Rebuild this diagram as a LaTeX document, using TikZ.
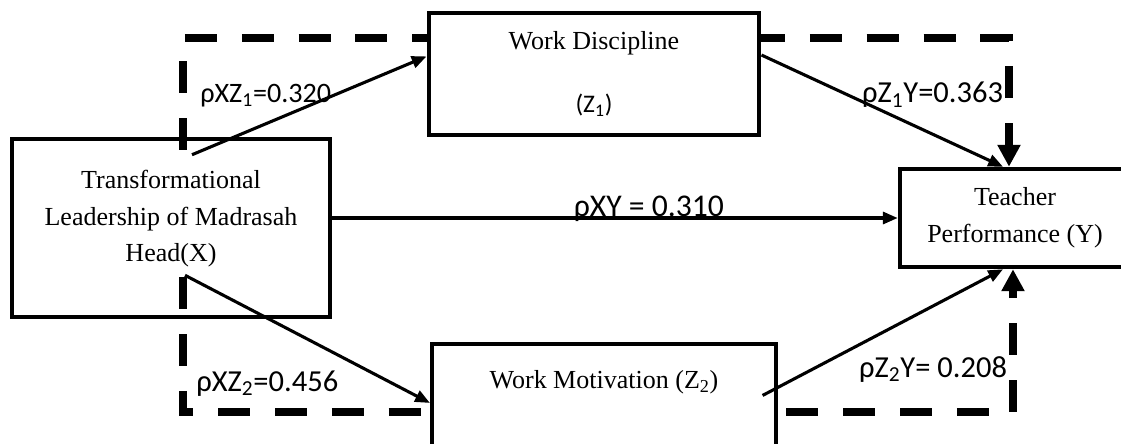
\documentclass[tikz,border=0pt]{standalone}
\usepackage{fontspec}
\setmainfont{Liberation Serif}
\newfontfamily\lblfont{Carlito}
\usetikzlibrary{positioning,arrows.meta,calc,backgrounds}

\begin{document}
\begin{tikzpicture}[x=0.025cm, y=-0.025cm, font=\fontsize{18.5}{26}\selectfont,
    var/.style={draw, line width=3.2pt, fill=white, align=center, inner sep=0pt},
    effect/.style={line width=2.2pt, -{Triangle[length=10.5pt,width=8.5pt]}},
    mediated/.style={line width=5.7pt, dash pattern=on 0.8cm off 0.62cm,
      -{Triangle[length=15.5pt,width=15.5pt]}},
    coef/.style={font=\lblfont\fontsize{21.7}{26}\selectfont, inner sep=0pt}]
    \useasboundingbox (0,0) rectangle (1121,443);

    \node[var, fill=none, minimum width=7.94cm, minimum height=4.45cm, text depth=0.6cm]
      (lead) at (171,228) {Transformational\\Leadership of Madrasah\\Head(X)};
    \node[var, minimum width=8.26cm, minimum height=3.06cm]
      (wd) at (594,74) {Work Discipline\\[0.67cm]{\lblfont\fontsize{18}{22}\selectfont(Z\textsubscript{1})}};
    \node[var, minimum width=8.59cm, minimum height=2.89cm, text height=0.5cm, text depth=1.175cm]
      (wm) at (604,402) {Work Motivation (Z\textsubscript{2})};
    \node[var, minimum width=5.75cm, minimum height=2.45cm]
      (tp) at (1015,218) {Teacher\\Performance (Y)};

    \begin{scope}[on background layer]
      \draw[mediated] ($(lead.north)+(12,13)$) |- ($(wd.north)+(0,27.5)$) -| ($(tp.north)+(-6,0)$);
      \draw[mediated] ($(lead.south)+(12,-42)$) |- ($(wm.north)+(0,70.5)$) -| ($(tp.south)+(-2,0)$);
    \end{scope}

    \draw[effect] ($(lead.north)+(21,18)$) -- node[coef, font=\lblfont\fontsize{20}{24}\selectfont,
      pos=0.6, anchor=east] {ρXZ\textsubscript{1}=0.320} (wd.174.5);
    \draw[effect] ($(wd.north east)+(0,44.5)$) -- node[coef, pos=0.41, anchor=west, yshift=0.15cm]
      {ρZ\textsubscript{1}Y=0.363} ($(tp.north)+(-12,0)$);
    \draw[effect] (lead.east |- tp.west) -- node[coef, font=\lblfont\fontsize{22.5}{26}\selectfont,
      pos=0.56, anchor=base, yshift=1.4pt] {ρXY = 0.310} (tp.west);
    \draw[effect] ($(lead.south)+(14,-44)$) -- node[coef, pos=0.632, anchor=north east, yshift=-0.33cm]
      {ρXZ\textsubscript{2}=0.456} ($(wm.north west)+(0,61)$);
    \draw[effect] ($(wm.north east)+(-15.5,53.5)$) -- node[coef, pos=0.395, anchor=north west, yshift=-0.23cm]
      {ρZ\textsubscript{2}Y= 0.208} ($(tp.south)+(-12,0)$);
\end{tikzpicture}
\end{document}
